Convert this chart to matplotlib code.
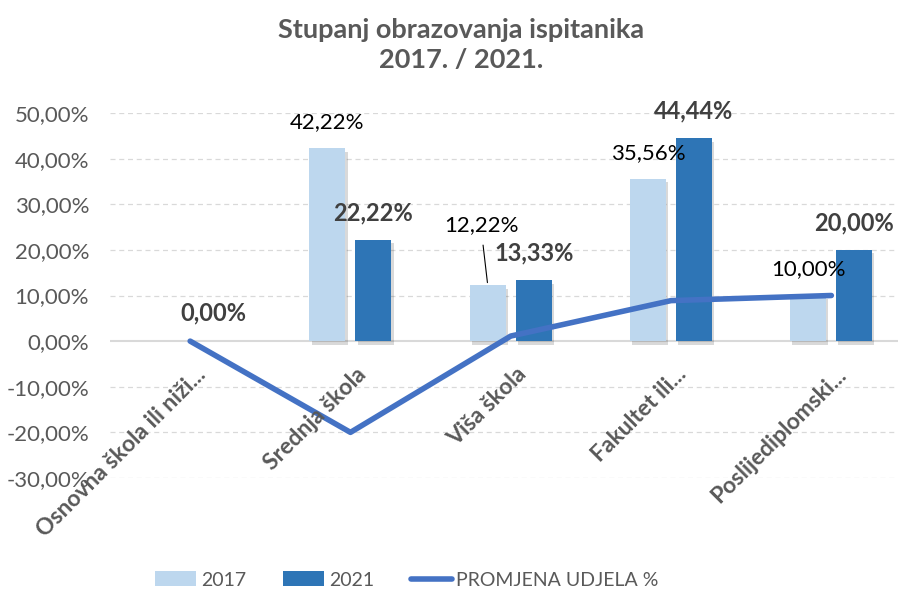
import matplotlib
matplotlib.use("Agg")
import matplotlib.pyplot as plt
import matplotlib.patheffects as pe
import numpy as np

plt.rcParams['font.family'] = ['Lato', 'DejaVu Sans']

categories = ["Osnovna škola ili niži...", "Srednja škola", "Viša škola",
              "Fakultet ili...", "Poslijediplomski..."]
v2017 = [0.0, 42.22, 12.22, 35.56, 10.00]
v2021 = [0.0, 22.22, 13.33, 44.44, 20.00]
change = [0.0, -20.0, 1.11, 8.88, 10.0]
yticks = [-30, -20, -10, 0, 10, 20, 30, 40, 50]

C17 = "#BDD7EE"
C21 = "#2E75B6"
CL = "#4472C4"
GRAY = "#595959"

W, H = 898, 591
fig = plt.figure(figsize=(W / 100, H / 100), dpi=100)
left, right, top, bottom = 110, 898, 113, 478
ax = fig.add_axes([left / W, 1 - bottom / H, (right - left) / W, (bottom - top) / H])

x = np.arange(len(categories))
spacing_px = 160.3
xmax = -0.5 + (right - left) / spacing_px
ax.set_xlim(-0.5, xmax)
ax.set_ylim(-30, 50)

bw = 36 / spacing_px
off = 23 / spacing_px
shadow = [pe.SimplePatchShadow(offset=(1.5, -2.5), shadow_rgbFace="#000000", alpha=0.15), pe.Normal()]
b1 = ax.bar(x - off, v2017, bw, color=C17, label="2017", zorder=3, path_effects=shadow)
b2 = ax.bar(x + off, v2021, bw, color=C21, label="2021", zorder=3, path_effects=shadow)
ln, = ax.plot(x, change, color=CL, lw=4.0, solid_capstyle='round', solid_joinstyle='round',
              label="PROMJENA UDJELA %", zorder=4)

for t in yticks:
    if t == 0:
        continue
    ax.axhline(t, color="#D9D9D9", lw=0.9, ls=(0, (4, 3)), zorder=0)
ax.axhline(0, color="#D9D9D9", lw=1.5, zorder=1)

for s in ax.spines.values():
    s.set_visible(False)
ax.set_yticks(yticks)
ax.set_yticklabels([f"{t},00%" for t in yticks], color=GRAY, fontsize=16)
ax.tick_params(axis='y', length=0, pad=15)
ax.set_xticks([])

def fmt(v):
    return f"{v:.2f}%".replace(".", ",")

for i in range(1, len(categories)):
    if i == 2:
        ax.annotate(fmt(v2017[i]), xy=(i - off, v2017[i]), xytext=(-6, 60),
                    textcoords='offset pixels', ha='center', va='center', fontsize=16,
                    color="black", zorder=6)
        ax.annotate("", xy=(i - off, v2017[i]), xytext=(i - off - 5 / spacing_px, v2017[i] + 43 / 4.56),
                    arrowprops=dict(arrowstyle='-', color='black', lw=0.8), zorder=6)
    else:
        ax.annotate(fmt(v2017[i]), xy=(i - off, v2017[i]), xytext=(0, 26),
                    textcoords='offset pixels', ha='center', va='center', fontsize=16,
                    color="black", zorder=6)
    ax.annotate(fmt(v2021[i]), xy=(i + off, v2021[i]), xytext=(0, 27),
                textcoords='offset pixels', ha='center', va='center', fontsize=17,
                color="#404040", fontweight='bold', zorder=6)
ax.annotate(fmt(change[0]), xy=(0, change[0]), xytext=(23, 28),
            textcoords='offset pixels', ha='center', va='center', fontsize=17,
            color="#404040", fontweight='bold', zorder=6)

for i, c in enumerate(categories):
    ax.annotate(c, xy=(i, 0), xytext=(12, -30), textcoords='offset pixels',
                ha='right', va='center', rotation=45, rotation_mode='anchor',
                fontsize=16.5, fontweight='bold', color=GRAY, zorder=6)

fig.text(461 / W, 1 - 30 / H, "Stupanj obrazovanja ispitanika", ha='center', va='center',
         fontsize=19.5, fontweight='bold', color=GRAY)
fig.text(461 / W, 1 - 60 / H, "2017. / 2021.", ha='center', va='center',
         fontsize=19.5, fontweight='bold', color=GRAY)

leg = fig.legend(handles=[b1, b2, ln], loc='center', bbox_to_anchor=(407 / W, 1 - 580 / H),
                 ncol=3, frameon=False, fontsize=14, handlelength=2.1, handleheight=0.8,
                 columnspacing=1.9, handletextpad=0.25, labelcolor=GRAY)
for h in leg.legend_handles[:2]:
    h.set_path_effects([])

fig.savefig("out.png", dpi=100)
